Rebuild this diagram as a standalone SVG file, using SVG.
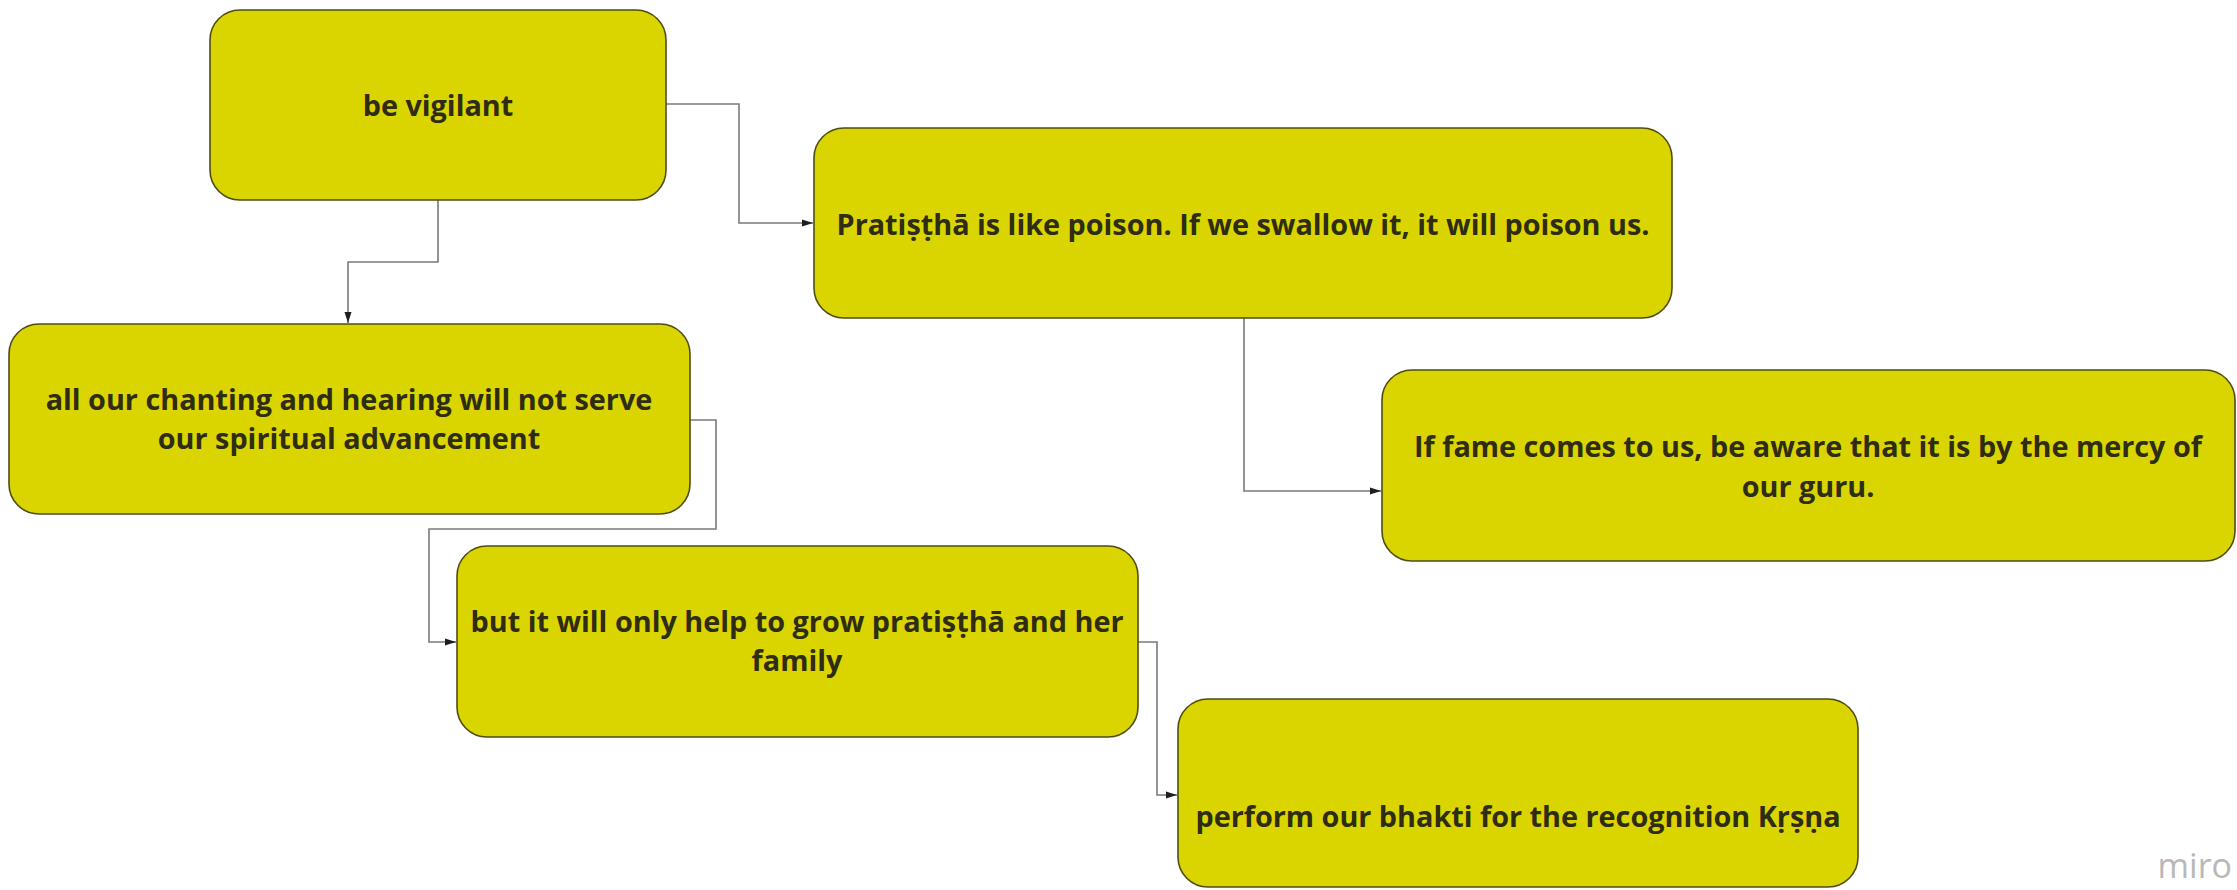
<svg xmlns="http://www.w3.org/2000/svg" width="2237" height="890" viewBox="0 0 2237 890">
<style>
.box{fill:#dad400;stroke:#4f4c12;stroke-width:1.6}
.t{font-family:"Open Sans","Noto Sans",sans-serif;font-weight:700;font-size:28.8px;fill:#2e2c12;text-anchor:middle;dominant-baseline:central}
.c{fill:none;stroke:#7a7a7a;stroke-width:1.6}
.wm{font-family:"Open Sans","Noto Sans",sans-serif;font-size:34px;fill:#b8b8b8;text-anchor:end}
</style>
<defs>
<marker id="ah" markerUnits="userSpaceOnUse" markerWidth="12" markerHeight="10" refX="11" refY="5" orient="auto">
<path d="M0,1.5 L11,5 L0,8.5 Z" fill="#1e1e1e"/>
</marker>
</defs>
<rect width="2237" height="890" fill="#ffffff"/>
<g id="connectors">
<path class="c" d="M666,104 H739 V223 H813" marker-end="url(#ah)"/>
<path class="c" d="M438,200 V262 H348 V323" marker-end="url(#ah)"/>
<path class="c" d="M1244,318 V491 H1381" marker-end="url(#ah)"/>
<path class="c" d="M690,420 H716 V529 H429 V642 H456" marker-end="url(#ah)"/>
<path class="c" d="M1138,642 H1157 V795 H1177" marker-end="url(#ah)"/>
</g>
<g id="n1">
<rect class="box" x="210" y="10" width="456" height="190" rx="30"/>
<text class="t" x="438" y="104">be vigilant</text>
</g>
<g id="n2">
<rect class="box" x="814" y="128" width="858" height="190" rx="30"/>
<text class="t" x="1243" y="223">Pratiṣṭhā is like poison. If we swallow it, it will poison us.</text>
</g>
<g id="n3">
<rect class="box" x="1382" y="370" width="853" height="191" rx="30"/>
<text class="t" x="1808" y="445">If fame comes to us, be aware that it is by the mercy of</text>
<text class="t" x="1808" y="485">our guru.</text>
</g>
<g id="n4">
<rect class="box" x="9" y="324" width="681" height="190" rx="30"/>
<text class="t" x="349" y="398">all our chanting and hearing will not serve</text>
<text class="t" x="349" y="437">our spiritual advancement</text>
</g>
<g id="n5">
<rect class="box" x="457" y="546" width="681" height="191" rx="30"/>
<text class="t" x="797" y="620">but it will only help to grow pratiṣṭhā and her</text>
<text class="t" x="797" y="659">family</text>
</g>
<g id="n6">
<rect class="box" x="1178" y="699" width="680" height="188" rx="30"/>
<text class="t" x="1518" y="815">perform our bhakti for the recognition Kṛṣṇa</text>
</g>
<text class="wm" x="2232" y="878">miro</text>
</svg>
